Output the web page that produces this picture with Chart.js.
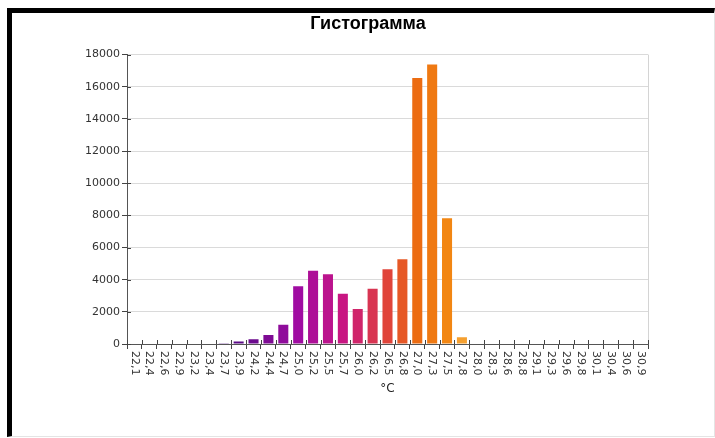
<!DOCTYPE html>
<html>
<head>
<meta charset="utf-8">
<script src="https://cdn.jsdelivr.net/npm/chart.js@4/dist/chart.umd.min.js"></script>
<style>
    body { margin: 0; background: #fff; }
    #frame {
        position: absolute; left: 7px; top: 8px;
        border-top: 5px solid #000; border-left: 5px solid #000;
        border-right: 1px solid #e4e4e4; border-bottom: 1px solid #e4e4e4;
        width: 702px; height: 423px;
    }
    canvas { display: block; }
</style>
</head>
<body>
<div id="frame"><canvas id="histChart" width="702" height="423"></canvas></div>
<script>
// Data
const tempLabels = ['22,1', '22,4', '22,6', '22,9', '23,2', '23,4', '23,7', '23,9', '24,2', '24,4',
    '24,7', '25,0', '25,2', '25,5', '25,7', '26,0', '26,2', '26,5', '26,8', '27,0',
    '27,3', '27,5', '27,8', '28,0', '28,3', '28,6', '28,8', '29,1', '29,3', '29,6',
    '29,8', '30,1', '30,4', '30,6', '30,9'];
const counts = [0, 0, 0, 0, 0, 0, 50, 150, 290, 560,
    1200, 3590, 4560, 4340, 3130, 2180, 3440, 4650, 5270, 16550,
    17380, 7820, 420, 0, 0, 0, 0, 0, 0, 0,
    0, 0, 0, 0, 0];
const yTicks = [0, 2000, 4000, 6000, 8000, 10000, 12000, 14000, 16000, 18000];

/* purple -> orange colour ramp along the categories */
const colorStops = [
    [6, [74, 10, 128]],
    [11, [160, 12, 162]],
    [14, [200, 22, 130]],
    [17, [224, 68, 58]],
    [19, [236, 108, 18]],
    [21, [242, 134, 18]],
    [22, [245, 160, 48]]
];
const rampColor = (i) => {
    if (i <= colorStops[0][0]) return 'rgb(' + colorStops[0][1].join(',') + ')';
    for (let k = 1; k < colorStops.length; k++) {
        const [i0, c0] = colorStops[k - 1];
        const [i1, c1] = colorStops[k];
        if (i <= i1) {
            const t = (i - i0) / (i1 - i0);
            const c = c0.map((v, j) => Math.round(v + (c1[j] - v) * t));
            return 'rgb(' + c.join(',') + ')';
        }
    }
    return 'rgb(' + colorStops[colorStops.length - 1][1].join(',') + ')';
};

const tickFont = { family: 'DejaVu Sans', size: 11 };

// Draws the rotated x labels, axis title and the inner halves of the ticks
const axisExtras = {
    id: 'axisExtras',
    afterLayout(chart) {
        // title is centred a bit right of the canvas middle in the original
        if (chart.titleBlock) chart.titleBlock.left = 76;
    },
    afterDraw(chart) {
        const ctx = chart.ctx;
        const xs = chart.scales.x;
        const ys = chart.scales.y;
        const area = chart.chartArea;
        ctx.save();

        // right border of plot
        ctx.strokeStyle = '#d4d4d4';
        ctx.lineWidth = 1;
        ctx.beginPath();
        ctx.moveTo(Math.round(area.right) + 0.5, area.top);
        ctx.lineTo(Math.round(area.right) + 0.5, area.bottom);
        ctx.stroke();

        // inner tick parts
        ctx.strokeStyle = '#444';
        ctx.beginPath();
        for (let i = 0; i <= tempLabels.length; i++) {
            const px = Math.round(xs.getPixelForValue(i - 0.5)) + 0.5;
            ctx.moveTo(px, area.bottom);
            ctx.lineTo(px, area.bottom - 4);
        }
        ys.ticks.forEach(t => {
            const py = Math.round(ys.getPixelForValue(t.value)) + 0.5;
            ctx.moveTo(area.left, py);
            ctx.lineTo(area.left + 4, py);
        });
        ctx.stroke();

        // x labels, rotated clockwise
        ctx.fillStyle = '#333';
        ctx.font = '11px "DejaVu Sans"';
        ctx.textAlign = 'left';
        ctx.textBaseline = 'middle';
        tempLabels.forEach((lab, i) => {
            ctx.save();
            ctx.translate(xs.getPixelForValue(i), area.bottom + 7);
            ctx.rotate(Math.PI / 2);
            ctx.fillText(lab, 0, 0);
            ctx.restore();
        });

        // axis title
        ctx.font = '12px "DejaVu Sans"';
        ctx.textAlign = 'center';
        ctx.fillStyle = '#222';
        ctx.fillText('°C', (area.left + area.right) / 2, area.bottom + 45);
        ctx.restore();
    }
};

const buildHistogram = () => {
    const data = {
        labels: tempLabels,
        datasets: [{
            label: 'Count',
            data: counts,
            backgroundColor: counts.map((v, i) => rampColor(i)),
            barPercentage: 0.75,
            categoryPercentage: 0.9
        }]
    };

    const config = {
        type: 'bar',
        data: data,
        options: {
            responsive: false,
            animation: false,
            layout: { padding: { left: 60, right: 66, top: 0, bottom: 0 } },
            plugins: {
                legend: { display: false },
                tooltip: { enabled: false },
                title: {
                    display: true,
                    text: 'Гистограмма',
                    color: '#000',
                    font: { family: 'Liberation Sans', size: 18, weight: 'bold' },
                    padding: { top: 0, bottom: 20 }
                }
            },
            scales: {
                x: {
                    offset: true,
                    grid: { display: true, drawOnChartArea: false, drawTicks: true, tickLength: 5, tickColor: '#444', offset: true },
                    border: { color: '#555' },
                    ticks: { display: false },
                    afterFit: (scale) => { scale.height = 92; }
                },
                y: {
                    min: 0,
                    max: 18000,
                    afterBuildTicks: (scale) => { scale.ticks = yTicks.map(v => ({ value: v })); },
                    grid: { color: '#dadada', tickLength: 5, tickColor: '#444' },
                    border: { color: '#555' },
                    ticks: {
                        color: '#333',
                        font: tickFont,
                        padding: 2,
                        callback: (value) => String(value)
                    },
                    afterFit: (scale) => { scale.width = 55; }
                }
            }
        },
        plugins: [axisExtras]
    };

    const ctx = document.getElementById('histChart').getContext('2d');
    const histChart = new Chart(ctx, config);
};

buildHistogram();
</script>
</body>
</html>
